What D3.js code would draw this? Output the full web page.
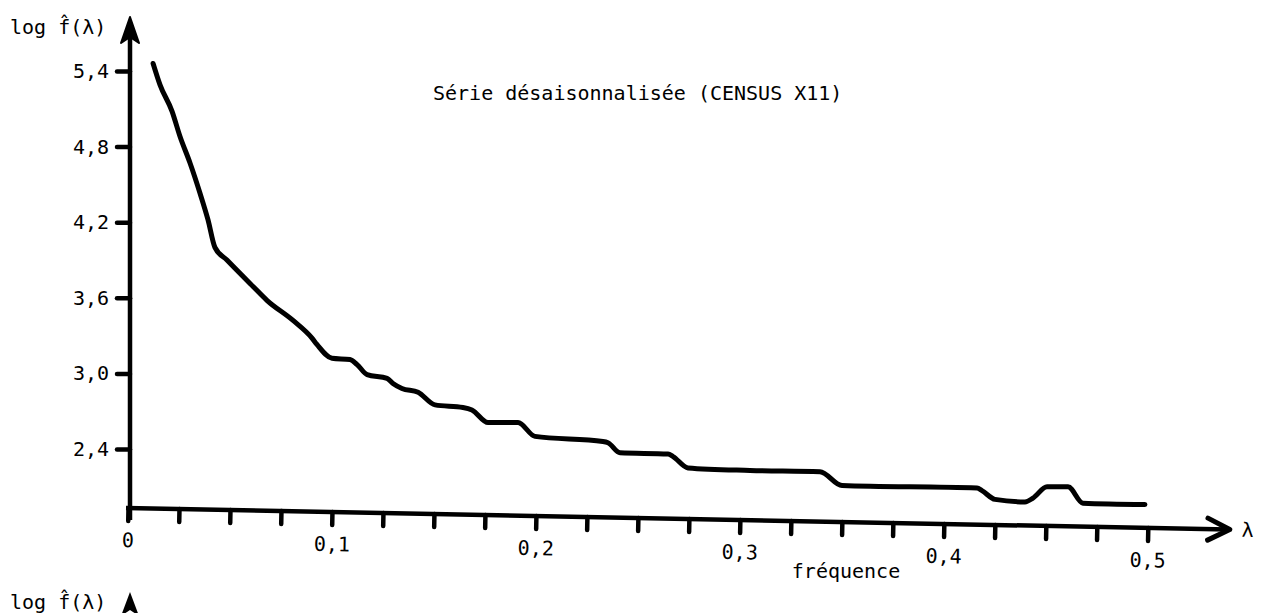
<!DOCTYPE html>
<html>
<head>
<meta charset="utf-8">
<script src="https://cdn.jsdelivr.net/npm/d3@7"></script>
<style>
  body { margin: 0; background: #fff; }
  svg text { font-family: "DejaVu Sans Mono", "Liberation Mono", monospace; font-size: 20px; fill: #000; }
</style>
</head>
<body>
<div id="chart"></div>
<script>
// frequency (lambda) and log of the estimated spectrum
let lambdas = [0.0123, 0.0157, 0.0216, 0.0255, 0.0304, 0.0353, 0.0392, 0.0426, 0.0485, 0.0613,
  0.0681, 0.0809, 0.0902, 0.0926, 0.1000, 0.1088, 0.1123, 0.1172, 0.1270, 0.1299,
  0.1343, 0.1422, 0.1505, 0.1642, 0.1686, 0.1765, 0.1912, 0.1995, 0.2328, 0.2353,
  0.2412, 0.2647, 0.2672, 0.2745, 0.3049, 0.3392, 0.3500, 0.4162, 0.4186, 0.4250,
  0.4397, 0.4436, 0.4505, 0.4608, 0.4681, 0.4985];
let logF = [5.46, 5.29, 5.08, 4.88, 4.67, 4.43, 4.22, 4.00, 3.90, 3.69,
  3.58, 3.42, 3.28, 3.23, 3.12, 3.11, 3.07, 2.99, 2.96, 2.92,
  2.88, 2.85, 2.75, 2.73, 2.71, 2.61, 2.61, 2.50, 2.46, 2.45,
  2.37, 2.36, 2.34, 2.25, 2.23, 2.22, 2.11, 2.09, 2.07, 2.00,
  1.98, 2.01, 2.10, 2.10, 1.97, 1.96];

let xTicks = d3.range(0, 0.5001, 0.025);
let xLabelled = [0, 0.1, 0.2, 0.3, 0.4, 0.5];
let yTicks = [2.4, 3.0, 3.6, 4.2, 4.8, 5.4];

let title = "Série désaisonnalisée (CENSUS X11)";
let yTitle = "log f\u0302(λ)";
let xTitle = "fréquence";

let width = 1269;
let height = 613;

let svg = d3.select("#chart").append("svg")
  .attr("width", width)
  .attr("height", height);

let x = d3.scaleLinear().domain([0, 0.5]).range([128, 1148]);
let y = d3.scaleLinear().domain([2.4, 5.4]).range([449, 71]);

let fr = d3.formatLocale({decimal: ",", thousands: ".", grouping: [3], currency: ["", ""]});
let f1 = fr.format(".1f");

let originY = 508;
let tilt = Math.atan2(21.6, 1104) * 180 / Math.PI; // the hand drawn axis slopes a little

// x axis, drawn slightly tilted like the original
let gx = svg.append("g")
  .attr("transform", `translate(0,${originY}) rotate(${tilt},128,0)`);

gx.call(d3.axisBottom(x)
  .tickValues(xTicks)
  .tickSize(13)
  .tickPadding(12)
  .tickFormat(d => {
    let hit = xLabelled.find(v => Math.abs(v - d) < 1e-6);
    if (hit === undefined) return "";
    return hit === 0 ? "0" : f1(hit);
  }));

gx.select(".domain").remove();
gx.selectAll(".tick line")
  .attr("stroke", "#000")
  .attr("stroke-width", 4.5)
  .attr("stroke-linecap", "round");
gx.selectAll(".tick text")
  .attr("font-size", null)
  .attr("font-family", null);

gx.append("line")
  .attr("x1", 126).attr("x2", 1228)
  .attr("y1", 0).attr("y2", 0)
  .attr("stroke", "#000")
  .attr("stroke-width", 4.5);

gx.append("path")
  .attr("d", "M1208,-11 L1230,0 L1208,11")
  .attr("fill", "none")
  .attr("stroke", "#000")
  .attr("stroke-width", 5)
  .attr("stroke-linecap", "round")
  .attr("stroke-linejoin", "round");

gx.append("text")
  .attr("x", 1248)
  .attr("y", 7)
  .attr("text-anchor", "middle")
  .text("λ");

// y axis
let gy = svg.append("g")
  .attr("transform", "translate(130,0)");

gy.call(d3.axisLeft(y)
  .tickValues(yTicks)
  .tickSize(13)
  .tickPadding(8)
  .tickFormat(f1));

gy.select(".domain").remove();
gy.selectAll(".tick line")
  .attr("stroke", "#000")
  .attr("stroke-width", 4.5)
  .attr("stroke-linecap", "round");
gy.selectAll(".tick text")
  .attr("font-size", null)
  .attr("font-family", null);

gy.append("line")
  .attr("x1", 0).attr("x2", 0)
  .attr("y1", originY + 12).attr("y2", 32)
  .attr("stroke", "#000")
  .attr("stroke-width", 4.5);

gy.append("path")
  .attr("d", "M0,17 L9,43 L0,37 L-9,43 Z")
  .attr("fill", "#000")
  .attr("stroke", "#000")
  .attr("stroke-width", 2)
  .attr("stroke-linejoin", "round");

svg.append("text")
  .attr("x", 10)
  .attr("y", 34)
  .text(yTitle);

// the curve
let pts = lambdas.map((l, i) => [l, logF[i]]);

svg.append("path")
  .datum(pts)
  .attr("fill", "none")
  .attr("stroke", "#000")
  .attr("stroke-width", 5)
  .attr("stroke-linecap", "round")
  .attr("stroke-linejoin", "round")
  .attr("d", d3.line()
    .x(d => x(d[0]))
    .y(d => y(d[1]))
    .curve(d3.curveMonotoneX));

svg.append("text")
  .attr("x", 433)
  .attr("y", 100)
  .text(title);

svg.append("text")
  .attr("x", 846)
  .attr("y", 578)
  .attr("text-anchor", "middle")
  .text(xTitle);

// top of the next chart on the page, cut by the frame
svg.append("text")
  .attr("x", 10)
  .attr("y", 609)
  .text(yTitle);

svg.append("path")
  .attr("d", "M130,592 L139,616 L130,610 L121,616 Z")
  .attr("fill", "#000");
</script>
</body>
</html>
